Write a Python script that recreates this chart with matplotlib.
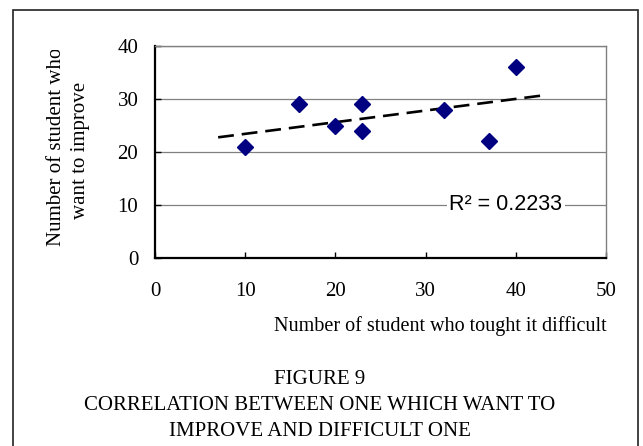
"""
Scatter of students who found a topic difficult vs. students who want to
improve it, with a linear trend line and R^2 label (Figure 9).
"""

import numpy as np
import matplotlib
matplotlib.use("Agg")
import matplotlib.pyplot as plt
from matplotlib.patches import Rectangle
from matplotlib.transforms import Bbox

# Data
difficult = [10, 16, 20, 23, 23, 32, 37, 40]
want_improve = [21, 29, 25, 29, 24, 28, 22, 36]

x_ticks = [0, 10, 20, 30, 40, 50]
y_ticks = [0, 10, 20, 30, 40]

# Trend line is drawn forward/backward past the data (Excel style)
trend_from = 7
trend_to = 43

serif = ["Liberation Serif", "DejaVu Serif"]
sans = ["Liberation Sans", "DejaVu Sans"]

W, H = 643, 446
fig = plt.figure(figsize=(W / 100, H / 100), dpi=100)
fig.patch.set_facecolor("white")

# Axes placed in pixel terms
left, right, top, bottom = 155, 606, 46, 258
ax = fig.add_axes([left / W, (H - bottom) / H, (right - left) / W, (bottom - top) / H])

# Scatter points
ax.plot(difficult, want_improve, linestyle="none", marker="D",
        markersize=8.5, color="#000080", zorder=3)

# Linear trend line
slope, intercept = np.polyfit(difficult, want_improve, 1)
xs = np.array([trend_from, trend_to])
ax.plot(xs, slope * xs + intercept, color="black", lw=1.9,
        dashes=(6, 3), zorder=2)

# R^2 of the fit
pred = slope * np.array(difficult) + intercept
resid = np.array(want_improve) - pred
r2 = 1 - np.sum(resid ** 2) / np.sum((np.array(want_improve) - np.mean(want_improve)) ** 2)
ax.text(38.9, 10, f"R\u00b2 = {r2:.4f}", family=sans, fontsize=15.5,
        ha="center", va="center", zorder=4,
        bbox=dict(facecolor="white", edgecolor="none", pad=1.5))

# Axis limits, ticks, grid
ax.set_xlim(0, 50)
ax.set_ylim(0, 40)
ax.set_xticks(x_ticks)
ax.set_yticks(y_ticks)
ax.set_xticklabels([str(t) for t in x_ticks], family=serif, fontsize=15)
ax.set_yticklabels([str(t) for t in y_ticks], family=serif, fontsize=15)
ax.tick_params(axis="x", direction="in", length=4, width=1, pad=17)
ax.tick_params(axis="y", direction="in", length=4, width=1, pad=12)
ax.grid(True, axis="y", color="#808080", lw=0.9)
ax.set_axisbelow(True)

for side in ["left", "bottom"]:
    ax.spines[side].set_color("black")
    ax.spines[side].set_linewidth(1.6)
for side in ["top", "right"]:
    ax.spines[side].set_color("#808080")
    ax.spines[side].set_linewidth(1.0)

# Y label (two lines, top of the first line gets clipped like the original)
ylab1 = fig.text(57 / W, 1 - 147 / H, "Number of student who", family=serif,
                 fontsize=15, rotation=90, ha="center", va="center")
ylab1.set_clip_on(True)
ylab1.set_clip_box(Bbox([[0, 0], [W, H - 50]]))
fig.text(80 / W, 1 - 150 / H, "want to improve", family=serif,
         fontsize=15, rotation=90, ha="center", va="center")

# X label
fig.text(607 / W, 1 - 326 / H, "Number of student who tought it difficult",
         family=serif, fontsize=14.5, ha="right", va="center")

# Caption
caption = ["FIGURE 9",
           "CORRELATION BETWEEN ONE WHICH WANT TO",
           "IMPROVE AND DIFFICULT ONE"]
for i, line in enumerate(caption):
    fig.text(320 / W, 1 - (380 + 25.5 * i) / H, line, family=serif,
             fontsize=15, ha="center", va="center")

# Outer frame (runs off the bottom of the image)
fig.patches.append(Rectangle((12.5 / W, -0.05), (638 - 12.5) / W, 1.05 - 9.5 / H,
                             transform=fig.transFigure, fill=False,
                             edgecolor="#222222", lw=1.2))

fig.savefig("out.png", dpi=100)
